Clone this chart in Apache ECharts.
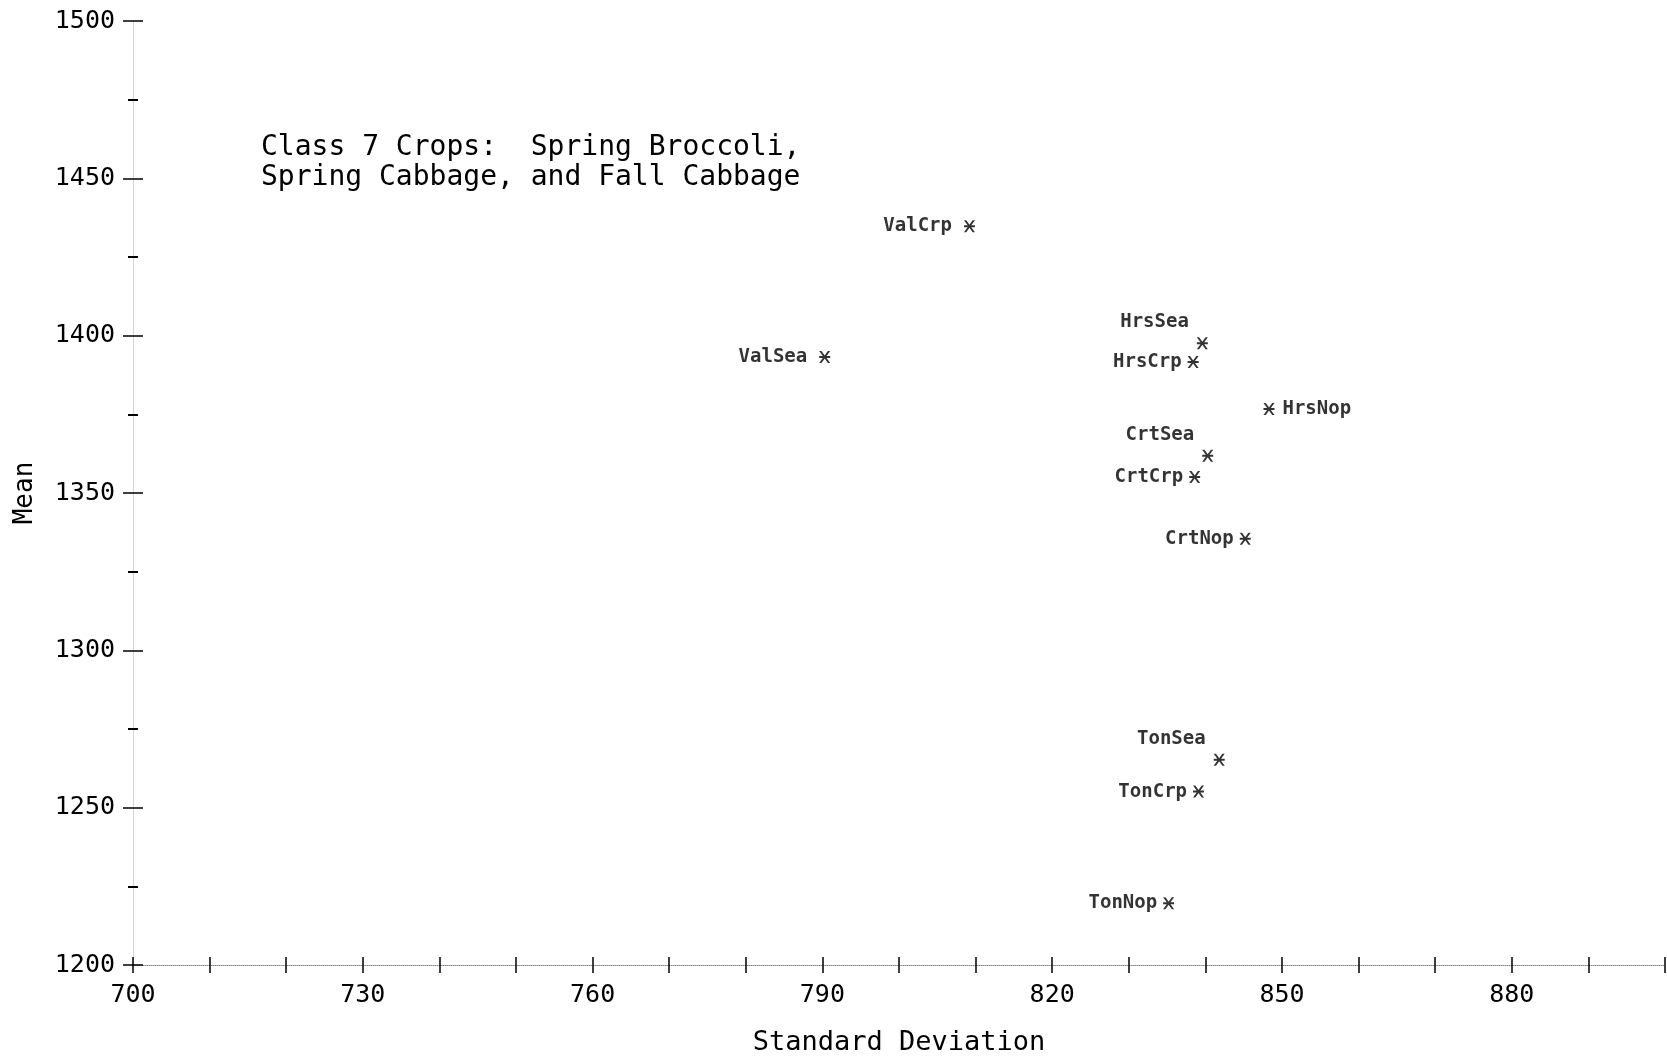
<!DOCTYPE html>
<html>
<head>
<meta charset="utf-8">
<script src="https://cdn.jsdelivr.net/npm/echarts@6/dist/echarts.min.js"></script>
<style>html,body{margin:0;padding:0;background:#fff;}#c{width:1667px;height:1057px;}</style>
</head>
<body>
<div id="c"></div>
<script>
// Data
const names = ['ValCrp','ValSea','HrsSea','HrsCrp','HrsNop','CrtSea','CrtCrp','CrtNop','TonSea','TonCrp','TonNop'];
const stdDev = [809.2, 790.3, 839.6, 838.4, 848.3, 840.3, 838.6, 845.2, 841.8, 839.1, 835.2];
const means  = [1434.8, 1393.2, 1397.6, 1391.6, 1376.7, 1361.8, 1355.1, 1335.5, 1265.2, 1255.1, 1219.6];
const titleLines = ['Class 7 Crops:  Spring Broccoli,', 'Spring Cabbage, and Fall Cabbage'];
const xAxisTitle = 'Standard Deviation';
const yAxisTitle = 'Mean';

const FONT = '"DejaVu Sans Mono", "Liberation Mono", monospace';
const asterisk = 'path://M0,5 L12,5 L12,7 L0,7 Z M0,0 L2.5,0 L12,12 L9.5,12 Z M9.5,0 L12,0 L2.5,12 L0,12 Z';

function labelFor(name) {
  if (name === 'HrsNop') return { position: 'right', distance: 8 };
  if (/^(Hrs|Crt|Ton)Sea$/.test(name)) return { position: 'left', distance: 8, offset: [0, -21] };
  if (/^Val/.test(name)) return { position: 'left', distance: 12 };
  return { position: 'left', distance: 6 };
}

const points = names.map((n, i) => ({
  name: n,
  value: [stdDev[i], means[i]],
  label: labelFor(n)
}));

const chart = echarts.init(document.getElementById('c'), null, { renderer: 'canvas' });
const gridPos = { left: 133, right: 2, top: 21, bottom: 92, containLabel: false, outerBoundsMode: 'none' };
const xBase = {
  type: 'value', min: 700, max: 900, interval: 10,
  splitLine: { show: false }
};
const yBase = {
  type: 'value', min: 1200, max: 1500, interval: 50,
  splitLine: { show: false }
};
chart.setOption({
  backgroundColor: '#ffffff',
  animation: false,
  title: {
    text: titleLines.join('\n'),
    left: 256, top: 128,
    textStyle: { fontFamily: FONT, fontSize: 28, fontWeight: 'normal', color: '#000', lineHeight: 30 }
  },
  grid: gridPos,
  xAxis: [
    Object.assign({}, xBase, {
      name: xAxisTitle, nameLocation: 'middle', nameGap: 64,
      nameTextStyle: { fontFamily: FONT, fontSize: 27, color: '#000' },
      axisLine: { show: true, lineStyle: { color: '#888', type: 'dotted', width: 1 } },
      axisTick: { show: true, inside: false, length: 8, lineStyle: { color: '#000', width: 1.5 } },
      axisLabel: {
        margin: 18, fontFamily: FONT, fontSize: 25, color: '#000',
        formatter: v => ((v - 700) % 30 === 0 && v < 900) ? String(v) : ''
      }
    }),
    Object.assign({}, xBase, {
      position: 'bottom',
      axisLine: { show: false },
      axisTick: { show: true, inside: true, length: 8, lineStyle: { color: '#000', width: 1.5 } },
      axisLabel: { show: false }
    })
  ],
  yAxis: [
    Object.assign({}, yBase, {
      name: yAxisTitle, nameLocation: 'middle', nameGap: 95,
      nameTextStyle: { fontFamily: FONT, fontSize: 26, color: '#000' },
      axisLine: { show: true, lineStyle: { color: '#ccc', type: 'dotted', width: 1 } },
      axisTick: { show: true, inside: false, length: 10, lineStyle: { color: '#000', width: 1.5 } },
      minorTick: { show: true, splitNumber: 2, length: 5, lineStyle: { color: '#000', width: 2 } },
      axisLabel: { margin: 18, fontFamily: FONT, fontSize: 25, color: '#000', formatter: v => String(v) }
    }),
    Object.assign({}, yBase, {
      position: 'left',
      axisLine: { show: false },
      axisTick: { show: true, inside: true, length: 10, lineStyle: { color: '#000', width: 1.5 } },
      minorTick: { show: true, splitNumber: 2, length: 5, lineStyle: { color: '#000', width: 2 } },
      axisLabel: { show: false }
    })
  ],
  series: [{
    type: 'scatter',
    xAxisIndex: 0, yAxisIndex: 0,
    symbol: asterisk,
    symbolSize: [11, 12],
    itemStyle: { color: '#000' },
    label: {
      show: true, formatter: '{b}',
      fontFamily: FONT, fontSize: 19, fontWeight: 'bold', color: '#000'
    },
    data: points
  }]
});
</script>
</body>
</html>
